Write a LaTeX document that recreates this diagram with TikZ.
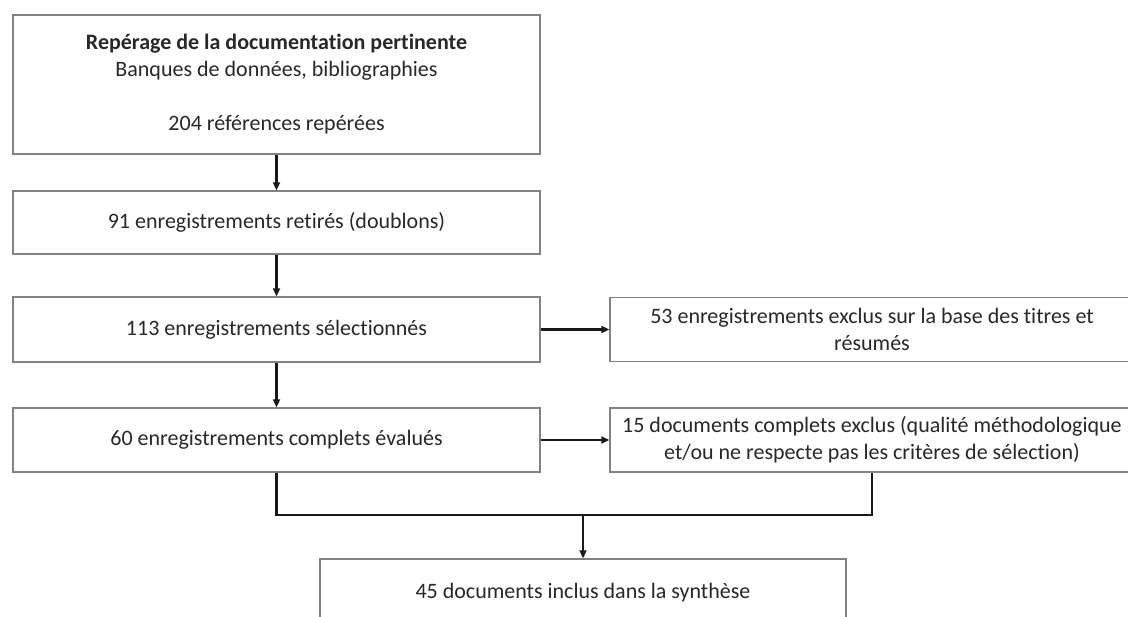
\documentclass[tikz,border=0pt]{standalone}
\usepackage{fontspec}
\setmainfont[Ligatures=NoCommon]{Carlito}
\usetikzlibrary{arrows.meta}
\definecolor{boxgray}{RGB}{130,130,130}
\definecolor{txtgray}{RGB}{40,40,40}
\begin{document}
\begin{tikzpicture}[x=1pt,y=-1pt,
  box/.style={draw=boxgray, line width=1.4pt, fill=white, inner sep=0pt,
    align=center, text=txtgray, font=\fontsize{22}{27}\selectfont},
  leftbox/.style={box, minimum width=527pt},
  rightbox/.style={box, minimum width=524pt},
  conn/.style={line width=2.2pt, draw=black!90},
  arr/.style={conn, -{Triangle[length=8pt,width=7pt]}}]
\useasboundingbox (0,0) rectangle (1128,617);
\clip (0,0) rectangle (1128,617);
\fill[white] (0,0) rectangle (1128,617);

\node[leftbox, minimum height=139pt] (top) at (276.5,84.5)
  {\textbf{Repérage de la documentation pertinente}\\Banques de données, bibliographies\\[27pt]204 références repérées};
\node[leftbox, minimum height=63pt] (b2) at (276.5,222.5) {91 enregistrements retirés (doublons)};
\node[leftbox, minimum height=65pt] (b3) at (276.5,329.5) {113 enregistrements sélectionnés};
\node[leftbox, minimum height=64pt] (b4) at (276.5,440) {60 enregistrements complets évalués};
\node[rightbox, minimum height=64pt] (r1) at (872,329.5)
  {53 enregistrements exclus sur la base des titres et\\résumés};
\node[rightbox, minimum height=64pt] (r2) at (872,440)
  {15 documents complets exclus (qualité méthodologique\\et/ou ne respecte pas les critères de sélection)};
\node[box, minimum width=526pt, minimum height=68pt] (fin) at (583,593)
  {45 documents inclus dans la synthèse};

\draw[arr] (top) -- (b2);
\draw[arr] (b2) -- (b3);
\draw[arr] (b3) -- (b4);
\draw[arr] (b3) -- (r1);
\draw[arr] (b4) -- (r2);
\coordinate (j) at (583,515);
\draw[conn] (b4.south) -- (b4.south |- j) -- (r2.south |- j) -- (r2.south);
\draw[arr] (j) -- (fin);
\end{tikzpicture}
\end{document}
